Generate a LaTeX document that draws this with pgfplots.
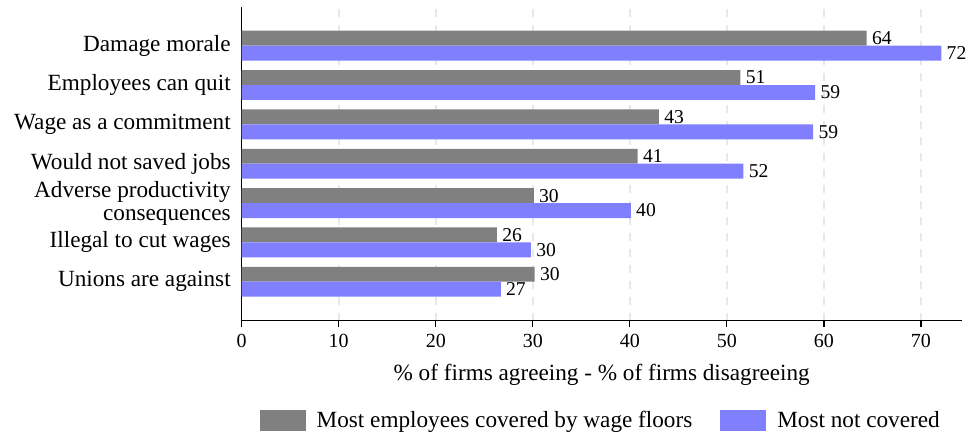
\documentclass[border=0pt]{standalone}
\usepackage{pgfplots}
\pgfplotsset{compat=1.18}
\usepackage{fontspec}
\setmainfont{Liberation Serif}
\definecolor{barGray}{RGB}{128,128,128}
\definecolor{barBlue}{RGB}{128,128,255}
\definecolor{gridc}{RGB}{232,232,232}

\pgfplotstableread{
y covered notcovered
0 30.2 26.7
1 26.3 29.8
2 30.1 40.1
3 40.8 51.7
4 43.0 58.9
5 51.4 59.1
6 64.4 72.1
}\mydata

\begin{document}
\begin{tikzpicture}
\useasboundingbox (-120.85pt,-58.65pt) rectangle (363.65pt,160.35pt);
\begin{axis}[
  at={(0,0)}, anchor=south west,
  scale only axis, width=360pt, height=156.7pt,
  xbar, bar width=0.38,
  xmin=0, xmax=74.2, ymin=-0.99, ymax=6.976,
  axis x line*=bottom, axis y line*=left,
  axis line style={line width=0.7pt, black},
  xtick={0,10,...,70},
  ytick={0,...,6},
  yticklabels={Unions are against, Illegal to cut wages, {Adverse productivity\\consequences}, Would not saved jobs, Wage as a commitment, Employees can quit, Damage morale},
  yticklabel style={align=right, font=\fontsize{11.6}{11.6}\selectfont, inner sep=2pt},
  ytick style={draw=none},
  xticklabel style={font=\fontsize{10}{12}\selectfont},
  /pgf/number format/assume math mode=true,
  tick align=outside,
  major tick length=3.3pt,
  xtick style={black, line width=0.6pt},
  xmajorgrids,
  grid style={gridc, dash pattern=on 4pt off 4pt, line width=0.8pt},
  xlabel={\% of firms agreeing - \% of firms disagreeing},
  xlabel style={at={(axis description cs:0.5,-0.172)}, anchor=center, font=\fontsize{11.6}{12}\selectfont},
  point meta=x,
  nodes near coords={\pgfmathprintnumber[fixed,precision=0]{\pgfplotspointmeta}},
  nodes near coords style={anchor=west, inner sep=2.5pt, font=\fontsize{9.8}{11}\selectfont, black},
  legend style={at={(0.5,-0.319)}, anchor=center, draw=none, legend columns=2,
    font=\fontsize{11.6}{12}\selectfont,
    /tikz/every odd column/.append style={column sep=3.5pt},
    /tikz/every even column/.append style={column sep=12pt}},
  legend image code/.code={\fill[#1] (0pt,-5.2pt) rectangle (23pt,5.2pt);},
]
\addplot[fill=barGray, draw=none, bar shift=0.19] table[x=covered, y=y] {\mydata};
\addlegendentry{Most employees covered by wage floors}
\addplot[fill=barBlue, draw=none, bar shift=-0.19] table[x=notcovered, y=y] {\mydata};
\addlegendentry{Most not covered}
\end{axis}
\end{tikzpicture}
\end{document}
